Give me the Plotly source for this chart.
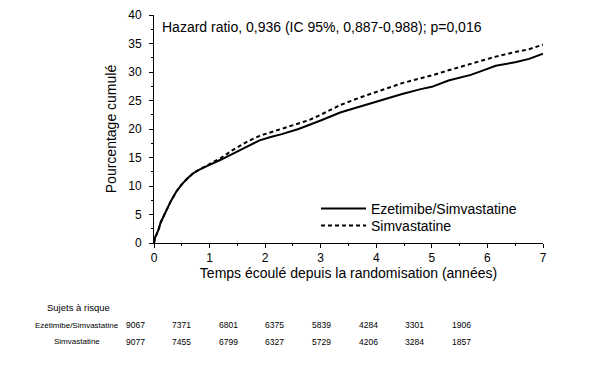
import plotly.graph_objects as go

# ---- data ----
years = [0, 0.02, 0.05, 0.08, 0.12, 0.2, 0.3, 0.4, 0.5, 0.6, 0.7, 0.8, 0.9, 1.0,
         1.2, 1.4, 1.55, 1.7, 1.9, 2.1, 2.3, 2.6, 2.8, 3.0, 3.35, 3.7, 4.05, 4.45,
         4.8, 5.0, 5.3, 5.7, 5.9, 6.15, 6.5, 6.75, 7.0]
ezetimibe_simva = [0, 1.0, 1.6, 2.3, 3.6, 5.3, 7.3, 9.0, 10.3, 11.3, 12.2, 12.8, 13.3, 13.7,
                   14.6, 15.6, 16.3, 17.1, 18.0, 18.6, 19.1, 20.0, 20.7, 21.5, 22.9, 23.9, 25.0, 26.1,
                   27.0, 27.4, 28.5, 29.5, 30.2, 31.1, 31.7, 32.3, 33.2]
simvastatine = [0, 1.0, 1.6, 2.3, 3.6, 5.3, 7.3, 9.0, 10.3, 11.3, 12.2, 12.8, 13.3, 13.8,
                14.9, 16.2, 17.1, 17.9, 18.8, 19.4, 20.0, 21.0, 21.6, 22.5, 24.2, 25.5, 26.7, 28.0,
                28.9, 29.4, 30.3, 31.4, 31.9, 32.7, 33.5, 34.0, 34.8]

risk_labels = ["Ezétimibe/Simvastatine", "Simvastatine"]
risk_ezetimibe = [9067, 7371, 6801, 6375, 5839, 4284, 3301, 1906]
risk_simva = [9077, 7455, 6799, 6327, 5729, 4206, 3284, 1857]

# ---- layout geometry (pixels) ----
W, H = 615, 387
L, R, T, B = 154, 543, 15, 243


def px_x(p):
    return (p - L) / (R - L)


def px_y(p):
    return (B - p) / (B - T)


FONT = "Liberation Sans, Arial, sans-serif"

fig = go.Figure()
fig.add_trace(go.Scatter(x=years, y=ezetimibe_simva, mode="lines",
                         name="Ezetimibe/Simvastatine", legend="legend",
                         line=dict(color="black", width=2)))
fig.add_trace(go.Scatter(x=years, y=simvastatine, mode="lines",
                         name="Simvastatine", legend="legend2",
                         line=dict(color="black", width=2, dash="4px,3px")))

annotations = [
    dict(text="Hazard ratio, 0,936 (IC 95%, 0,887-0,988); p=0,016",
         xref="paper", yref="paper", x=px_x(160), y=px_y(27),
         xanchor="left", yanchor="middle", showarrow=False,
         font=dict(size=14, color="black", family=FONT)),
    dict(text="Sujets à risque", xref="paper", yref="paper",
         x=px_x(78.5), y=px_y(307.5), xanchor="center", yanchor="middle",
         showarrow=False, font=dict(size=9.5, color="black", family=FONT)),
]
row_y = [325, 341.5]
for lab, yy in zip(risk_labels, row_y):
    annotations.append(dict(text=lab, xref="paper", yref="paper",
                            x=px_x(77), y=px_y(yy), xanchor="center", yanchor="middle",
                            showarrow=False, font=dict(size=8, color="black", family=FONT)))
for i, (a, b) in enumerate(zip(risk_ezetimibe, risk_simva)):
    cx = 135 + i * 46.65
    for v, yy in zip((a, b), row_y):
        annotations.append(dict(text=str(v), xref="paper", yref="paper",
                                x=px_x(cx), y=px_y(yy), xanchor="center", yanchor="middle",
                                showarrow=False, font=dict(size=8.5, color="black", family=FONT)))

legend_style = dict(xanchor="left", yanchor="top", bgcolor="rgba(0,0,0,0)",
                    font=dict(size=14, family=FONT), itemwidth=45)

fig.update_layout(
    width=W, height=H,
    margin=dict(l=L, r=W - R, t=T, b=H - B),
    paper_bgcolor="white", plot_bgcolor="white",
    font=dict(family=FONT, color="black", size=12),
    showlegend=True,
    legend=dict(x=px_x(316), y=px_y(193), **legend_style),
    legend2=dict(x=px_x(316), y=px_y(210), **legend_style),
    annotations=annotations,
    xaxis=dict(range=[0, 7], dtick=1, showline=True, linecolor="black", linewidth=1,
               ticks="outside", ticklen=4, tickcolor="black", showgrid=False, zeroline=False,
               automargin=False,
               minor=dict(dtick=0.5, ticks="outside", ticklen=2, tickcolor="black", showgrid=False),
               title=dict(text="Temps écoulé depuis la randomisation (années)",
                          font=dict(size=14), standoff=0),
               tickfont=dict(size=12)),
    yaxis=dict(range=[0, 40], dtick=5, showline=True, linecolor="black", linewidth=1,
               ticks="outside", ticklen=4, tickcolor="black", showgrid=False, zeroline=False,
               automargin=False, ticklabelstandoff=5,
               minor=dict(dtick=2.5, ticks="outside", ticklen=2, tickcolor="black", showgrid=False),
               title=dict(text="Pourcentage cumulé", font=dict(size=14), standoff=8),
               tickfont=dict(size=12)),
)

fig.write_html("out.html", config={"displayModeBar": False},
               post_script="document.body.style.margin='0';")
